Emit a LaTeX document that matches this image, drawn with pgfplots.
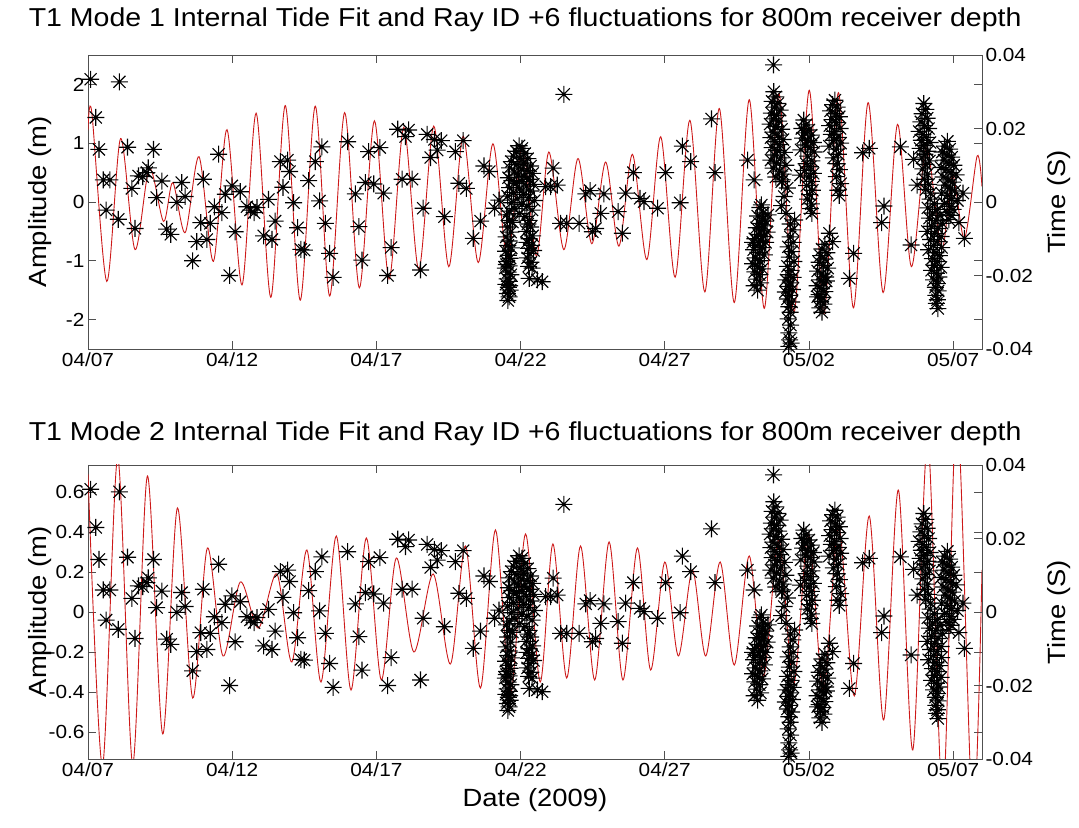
\documentclass[border=0pt]{standalone}
\usepackage{graphicx}
\usepackage{fontspec}
\setmainfont{Liberation Sans}
\usepackage{pgfplots}
\pgfplotsset{compat=1.18}
\usepackage{pgfplotstable}
\newcommand\sx[1]{\scalebox{1.1}[1]{#1}}
\definecolor{fitred}{RGB}{205,25,25}
\definecolor{axgray}{RGB}{80,80,80}

\pgfdeclareplotmark{mstar}{%
 \pgfpathmoveto{\pgfqpoint{-\pgfplotmarksize}{0pt}}%
 \pgfpathlineto{\pgfqpoint{\pgfplotmarksize}{0pt}}%
 \pgfpathmoveto{\pgfqpoint{0pt}{-\pgfplotmarksize}}%
 \pgfpathlineto{\pgfqpoint{0pt}{\pgfplotmarksize}}%
 \pgfpathmoveto{\pgfqpoint{-0.7071\pgfplotmarksize}{-0.7071\pgfplotmarksize}}%
 \pgfpathlineto{\pgfqpoint{0.7071\pgfplotmarksize}{0.7071\pgfplotmarksize}}%
 \pgfpathmoveto{\pgfqpoint{-0.7071\pgfplotmarksize}{0.7071\pgfplotmarksize}}%
 \pgfpathlineto{\pgfqpoint{0.7071\pgfplotmarksize}{-0.7071\pgfplotmarksize}}%
 \pgfusepathqstroke}

% Ray ID +6 travel-time fluctuations (day since 04/07, seconds)
\pgfplotstableread{
d t
0.09 0.0334
1.09 0.0327
0.27 0.0230
0.38 0.0143
0.53 0.0060
0.76 0.0060
0.63 -0.0022
1.05 -0.0047
1.37 0.0149
1.52 0.0037
1.63 -0.0072
1.75 0.0071
1.90 0.0069
2.04 0.0080
2.09 0.0093
2.27 0.0143
2.38 0.0012
2.56 0.0057
2.73 -0.0074
2.87 -0.0088
3.08 -0.0001
3.25 0.0053
3.37 0.0015
3.63 -0.0160
3.77 -0.0108
4.00 0.0062
3.91 -0.0056
4.12 -0.0102
4.24 -0.0058
4.38 -0.0013
4.53 0.0130
4.64 -0.0029
4.76 0.0021
4.91 -0.0200
4.99 0.0044
5.10 -0.0081
5.28 0.0028
5.51 -0.0013
5.63 -0.0022
5.76 -0.0029
5.86 -0.0015
6.09 -0.0092
6.26 0.0007
6.38 -0.0102
6.49 -0.0052
6.67 0.0110
6.76 0.0040
6.92 0.0114
6.99 0.0083
7.13 -0.0002
7.27 -0.0070
7.38 -0.0129
7.50 -0.0131
7.65 0.0058
7.88 0.0110
8.03 0.0003
8.11 0.0150
8.23 -0.0058
8.38 -0.0140
8.50 -0.0205
9.00 0.0164
9.27 0.0022
9.39 -0.0067
9.50 -0.0158
9.62 0.0053
9.73 0.0137
9.91 0.0049
10.12 0.0148
10.25 0.0024
10.39 -0.0200
10.51 -0.0124
10.74 0.0198
10.89 0.0062
11.01 0.0178
11.12 0.0196
11.24 0.0062
11.53 -0.0185
11.62 -0.0017
11.76 0.0184
11.88 0.0121
12.01 0.0170
12.11 0.0141
12.25 0.0167
12.36 -0.0040
12.74 0.0137
12.86 0.0051
13.01 0.0167
13.12 0.0037
13.36 -0.0099
13.61 -0.0052
13.73 0.0098
13.92 0.0083
14.10 -0.0017
14.25 0.0005
15.58 -0.0212
15.75 -0.0217
15.87 0.0042
16.04 0.0042
16.13 0.0092
16.27 0.0046
16.50 0.0293
16.39 -0.0058
16.60 -0.0058
17.03 -0.0058
17.26 0.0022
17.41 0.0031
17.49 -0.0081
17.60 -0.0072
17.78 -0.0031
17.89 0.0022
18.38 -0.0026
18.53 -0.0085
18.64 0.0024
18.91 0.0080
19.14 0.0010
19.28 0.0001
19.75 -0.0017
20.03 0.0080
20.53 -0.0002
20.61 0.0152
20.90 0.0110
21.62 0.0226
21.74 0.0080
22.87 0.0114
23.10 0.0060
23.77 0.0373
24.09 0.0060
24.14 0.0015
24.44 -0.0076
24.50 -0.0049
25.71 -0.0085
25.82 -0.0108
26.40 -0.0208
26.55 -0.0140
26.86 0.0134
27.09 0.0146
27.52 -0.0056
27.60 -0.0011
28.17 0.0150
28.54 -0.0117
28.63 0.0116
28.75 0.0046
30.34 0.0024
30.39 -0.0099
14.52 -0.0035
14.62 -0.0050
14.55 -0.0068
14.66 -0.0082
14.50 -0.0095
14.60 -0.0106
14.56 -0.0118
14.68 -0.0125
14.48 -0.0134
14.58 -0.0145
14.64 -0.0153
14.52 -0.0162
14.60 -0.0174
14.47 -0.0180
14.57 -0.0191
14.66 -0.0198
14.53 -0.0209
14.61 -0.0216
14.49 -0.0224
14.58 -0.0232
14.64 -0.0240
14.54 -0.0249
14.60 -0.0258
14.56 -0.0268
14.62 -0.0228
14.51 -0.0170
14.95 0.0153
15.05 0.0146
14.85 0.0138
15.15 0.0132
14.75 0.0125
14.98 0.0120
15.25 0.0118
14.68 0.0110
15.10 0.0106
14.88 0.0102
15.35 0.0098
14.62 0.0093
15.02 0.0090
15.22 0.0086
14.78 0.0082
15.42 0.0078
14.92 0.0074
15.12 0.0070
14.58 0.0066
15.30 0.0062
14.70 0.0058
15.05 0.0055
14.85 0.0050
15.45 0.0048
15.20 0.0043
14.62 0.0039
14.96 0.0035
15.35 0.0030
14.75 0.0026
15.10 0.0021
14.55 0.0016
15.28 0.0012
14.88 0.0008
15.48 0.0004
14.68 -0.0002
15.05 -0.0006
15.22 -0.0012
14.80 -0.0018
14.60 -0.0025
15.40 -0.0022
14.95 -0.0032
15.15 -0.0040
14.72 -0.0055
15.30 -0.0050
15.25 -0.0060
15.35 -0.0068
15.20 -0.0080
15.42 -0.0092
15.30 -0.0100
15.22 -0.0110
15.38 -0.0118
15.28 -0.0126
15.45 -0.0132
15.32 -0.0140
15.24 -0.0152
15.36 -0.0164
15.28 -0.0175
15.40 -0.0180
15.30 -0.0208
23.35 -0.0008
23.30 -0.0015
23.42 -0.0030
23.22 -0.0038
23.38 -0.0046
23.50 -0.0052
23.28 -0.0058
23.45 -0.0065
23.18 -0.0070
23.35 -0.0076
23.55 -0.0082
23.25 -0.0088
23.42 -0.0094
23.12 -0.0100
23.32 -0.0106
23.50 -0.0110
23.20 -0.0118
23.38 -0.0124
23.08 -0.0130
23.28 -0.0138
23.45 -0.0144
23.15 -0.0152
23.30 -0.0160
23.05 -0.0168
23.22 -0.0176
23.38 -0.0182
23.12 -0.0190
23.28 -0.0198
23.18 -0.0210
23.32 -0.0220
23.10 -0.0228
23.22 -0.0240
23.05 -0.0110
23.58 -0.0035
23.78 0.0300
23.85 0.0286
23.72 0.0274
23.92 0.0268
23.80 0.0258
24.00 0.0250
23.70 0.0242
23.88 0.0236
23.78 0.0226
23.95 0.0220
23.65 0.0212
23.85 0.0205
24.05 0.0198
23.75 0.0190
23.92 0.0182
23.68 0.0175
24.10 0.0170
23.82 0.0164
23.98 0.0156
23.72 0.0148
23.90 0.0140
24.15 0.0135
23.80 0.0128
24.02 0.0120
23.68 0.0114
23.88 0.0106
24.20 0.0100
23.76 0.0092
23.98 0.0084
24.10 0.0076
23.85 0.0068
24.05 0.0055
24.20 -0.0031
24.05 -0.0010
24.25 0.0038
24.35 -0.0060
24.35 -0.0095
24.45 -0.0110
24.28 -0.0122
24.40 -0.0135
24.32 -0.0150
24.48 -0.0162
24.25 -0.0175
24.38 -0.0186
24.30 -0.0198
24.45 -0.0205
24.20 -0.0212
24.35 -0.0220
24.28 -0.0230
24.42 -0.0238
24.18 -0.0245
24.32 -0.0254
24.25 -0.0264
24.40 -0.0272
24.30 -0.0285
24.35 -0.0300
24.28 -0.0318
24.36 -0.0335
24.30 -0.0356
24.33 -0.0375
24.30 -0.0393
24.38 -0.0384
24.82 0.0223
24.90 0.0210
24.75 0.0200
25.00 0.0196
24.85 0.0188
25.08 0.0182
24.78 0.0174
24.95 0.0168
25.15 0.0162
24.88 0.0155
25.05 0.0148
24.72 0.0142
25.18 0.0136
24.95 0.0125
25.10 0.0112
24.90 0.0104
25.05 0.0096
24.85 0.0086
25.15 0.0078
24.70 0.0073
25.00 0.0068
25.08 0.0056
24.92 0.0045
25.12 0.0032
25.02 0.0020
24.95 0.0008
25.08 -0.0005
25.05 -0.0018
25.10 -0.0031
25.55 -0.0115
25.45 -0.0128
25.62 -0.0138
25.40 -0.0146
25.55 -0.0155
25.35 -0.0164
25.50 -0.0172
25.65 -0.0180
25.30 -0.0188
25.45 -0.0196
25.58 -0.0204
25.38 -0.0212
25.50 -0.0220
25.28 -0.0228
25.42 -0.0236
25.55 -0.0244
25.35 -0.0252
25.48 -0.0260
25.40 -0.0270
25.52 -0.0278
25.38 -0.0288
25.45 -0.0300
25.30 -0.0258
25.60 -0.0215
25.90 0.0277
25.82 0.0265
25.98 0.0258
25.75 0.0248
25.92 0.0240
26.05 0.0232
25.80 0.0224
25.95 0.0216
25.72 0.0208
26.08 0.0200
25.88 0.0192
25.78 0.0184
26.00 0.0176
25.85 0.0168
26.10 0.0160
25.70 0.0152
25.95 0.0144
26.02 0.0130
25.85 0.0120
25.98 0.0104
26.05 0.0088
25.95 0.0069
26.10 0.0050
26.00 0.0032
26.05 0.0018
28.98 0.0268
29.05 0.0252
28.92 0.0240
29.10 0.0228
28.88 0.0218
29.00 0.0208
29.15 0.0200
28.82 0.0192
28.95 0.0184
29.08 0.0176
28.90 0.0168
29.20 0.0162
28.98 0.0154
28.85 0.0146
29.12 0.0138
29.02 0.0130
28.92 0.0120
29.18 0.0112
29.05 0.0102
28.95 0.0090
29.10 0.0076
29.00 0.0062
29.15 0.0048
29.05 0.0034
29.22 0.0024
29.20 0.0008
29.35 -0.0005
29.12 -0.0016
29.45 -0.0020
29.28 -0.0030
29.55 -0.0036
29.18 -0.0044
29.40 -0.0050
29.62 -0.0058
29.25 -0.0066
29.48 -0.0072
29.10 -0.0080
29.35 -0.0086
29.58 -0.0094
29.22 -0.0102
29.45 -0.0108
29.32 -0.0118
29.60 -0.0124
29.15 -0.0130
29.40 -0.0138
29.52 -0.0146
29.28 -0.0154
29.45 -0.0162
29.35 -0.0172
29.58 -0.0178
29.25 -0.0186
29.42 -0.0194
29.50 -0.0204
29.32 -0.0212
29.45 -0.0222
29.38 -0.0232
29.48 -0.0242
29.40 -0.0254
29.45 -0.0266
29.42 -0.0276
29.47 -0.0290
29.80 0.0165
29.70 0.0152
29.88 0.0144
29.62 0.0136
29.78 0.0128
29.95 0.0122
29.68 0.0114
29.85 0.0106
30.02 0.0100
29.58 0.0094
29.75 0.0088
29.92 0.0080
30.10 0.0074
29.65 0.0068
29.82 0.0060
29.98 0.0054
29.72 0.0046
29.90 0.0038
30.05 0.0030
29.60 0.0024
29.80 0.0018
29.95 0.0010
30.15 0.0004
29.70 -0.0004
29.88 -0.0012
30.00 -0.0020
29.78 -0.0028
29.92 -0.0036
29.85 -0.0048
30.20 -0.0056
}\scat

% Mode 1 internal tide fit (day, m)
\pgfplotstableread{
d a
0.00 1.22
0.13 1.53
0.65 -1.35
1.13 1.08
1.63 -0.81
2.13 0.57
2.62 -0.33
2.94 0.33
3.37 -0.52
3.85 0.77
4.35 -1.01
4.82 1.23
5.34 -1.41
5.83 1.51
6.34 -1.62
6.84 1.64
7.36 -1.67
7.88 1.63
8.38 -1.60
8.90 1.52
9.41 -1.46
9.93 1.38
10.44 -1.31
10.95 1.27
11.47 -1.15
11.99 1.29
12.51 -1.10
13.01 1.12
13.53 -1.03
14.04 0.99
14.54 -0.95
15.06 0.95
15.55 -0.92
15.98 0.85
16.50 -0.81
16.99 0.74
17.47 -0.71
17.95 0.68
18.41 -0.75
18.88 0.81
19.38 -0.98
19.86 1.11
20.36 -1.28
20.87 1.39
21.39 -1.53
21.89 1.59
22.41 -1.71
22.93 1.74
23.45 -1.81
23.96 1.84
24.48 -1.88
25.01 1.90
25.52 -1.90
26.02 1.86
26.54 -1.80
27.05 1.69
27.57 -1.54
28.07 1.32
28.55 -1.10
29.07 0.92
29.60 -0.80
29.98 0.45
30.39 -0.62
30.83 0.78
31.00 0.26
}\modeone

% Mode 2 internal tide fit (day, m)
\pgfplotstableread{
d a
0.00 0.69
0.50 -0.77
1.03 0.77
1.55 -0.76
2.06 0.68
2.59 -0.61
3.10 0.52
3.63 -0.43
4.14 0.32
4.68 -0.22
5.28 0.15
5.91 -0.08
6.55 0.19
7.07 -0.25
7.59 0.31
8.08 -0.35
8.61 0.38
9.12 -0.39
9.65 0.37
10.17 -0.34
10.69 0.27
11.30 -0.20
11.97 0.19
12.57 -0.26
13.09 0.33
13.61 -0.38
14.13 0.41
14.65 -0.41
15.17 0.39
15.68 -0.35
16.12 0.34
16.60 -0.33
17.08 0.33
17.57 -0.34
18.07 0.35
18.55 -0.34
19.05 0.32
19.51 -0.29
20.00 0.25
20.47 -0.22
20.96 0.21
21.42 -0.22
21.92 0.25
22.41 -0.265
22.93 0.28
23.43 -0.32
23.95 0.36
24.47 -0.36
24.98 0.39
25.50 -0.39
26.03 0.43
26.57 -0.42
27.09 0.48
27.59 -0.54
28.10 0.61
28.60 -0.69
29.12 0.86
29.64 -0.94
30.13 1.01
30.68 -1.04
31.00 0.21
}\modetwo

\pgfplotsset{
  every axis/.append style={
    scale only axis, width=894bp, height=294bp,
    xmin=0, xmax=31,
    axis line style={axgray, line width=0.8bp},
    every tick/.style={axgray, line width=0.8bp},
    major tick length=8bp,
    tick label style={font=\fontsize{19}{21}\selectfont},
    label style={font=\fontsize{25}{28}\selectfont},
    title style={font=\fontsize{26}{30}\selectfont},
  },
  leftax/.style={
    xtick={0,5,10,15,20,25,30},
    xticklabels={\sx{04/07},\sx{04/12},\sx{04/17},\sx{04/22},\sx{04/27},\sx{05/02},\sx{05/07}},
    ylabel={\sx{Amplitude (m)}},
    ylabel style={at={(axis description cs:-0.0537,0.5)}, anchor=center},
  },
  rightax/.style={
    axis x line=none, axis y line*=right,
    ymin=-0.04, ymax=0.04,
    scaled y ticks=false,
    ytick={-0.04,-0.02,0,0.02,0.04},
    yticklabels={\sx{-0.04},\sx{-0.02},\sx{0},\sx{0.02},\sx{0.04}},
    ytick align=inside,
    ylabel={\sx{Time (S)}},
    ylabel style={at={(axis description cs:1.086,0.5)}, anchor=center},
  },
  starplot/.style={only marks, mark=mstar, mark size=8.5bp, mark options={line width=1.1bp, black}},
}

\begin{document}
\begin{tikzpicture}
\useasboundingbox (0,0) rectangle (1079bp,828bp);

% ---------- top panel ----------
\begin{axis}[leftax, at={(88bp,479bp)}, anchor=south west,
  ymin=-2.5, ymax=2.5, ytick={-2,-1,0,1,2},
  yticklabels={\sx{-2},\sx{-1},\sx{0},\sx{1},\sx{2}},
  title={\sx{T1 Mode 1 Internal Tide Fit and Ray ID +6 fluctuations for 800m receiver depth}},
  title style={at={(axis description cs:0.489,1.099)}, anchor=center},
]
\addplot[fitred, line width=0.9bp, smooth] table[x=d,y=a] {\modeone};
\end{axis}
\begin{axis}[rightax, at={(88bp,479bp)}, anchor=south west]
\addplot[starplot] table[x=d,y=t] {\scat};
\end{axis}

% ---------- bottom panel ----------
\begin{axis}[leftax, at={(88bp,69bp)}, anchor=south west,
  ymin=-0.735, ymax=0.735, ytick={-0.6,-0.4,-0.2,0,0.2,0.4,0.6},
  yticklabels={\sx{-0.6},\sx{-0.4},\sx{-0.2},\sx{0},\sx{0.2},\sx{0.4},\sx{0.6}},
  xlabel={\sx{Date (2009)}},
  xlabel style={at={(axis description cs:0.5,-0.139)}, anchor=center},
  title={\sx{T1 Mode 2 Internal Tide Fit and Ray ID +6 fluctuations for 800m receiver depth}},
  title style={at={(axis description cs:0.489,1.087)}, anchor=center},
]
\addplot[fitred, line width=0.9bp, smooth] table[x=d,y=a] {\modetwo};
\end{axis}
\begin{axis}[rightax, at={(88bp,69bp)}, anchor=south west]
\addplot[starplot] table[x=d,y=t] {\scat};
\end{axis}
\end{tikzpicture}
\end{document}
